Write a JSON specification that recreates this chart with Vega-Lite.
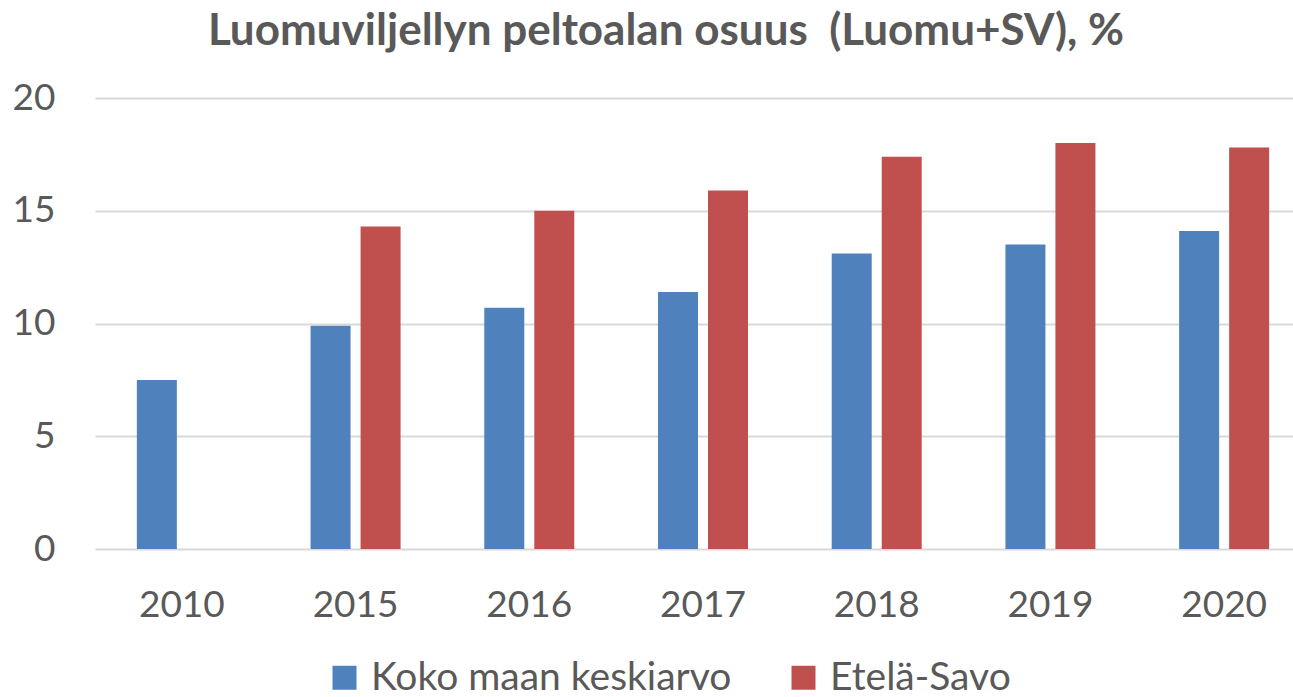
{
  "$schema": "https://vega.github.io/schema/vega-lite/v6.json",
  "width": 1198,
  "height": 451,
  "autosize": {"type": "none"},
  "padding": {"left": 95, "top": 98, "right": 0, "bottom": 148},
  "background": "white",
  "title": {
    "text": "Luomuviljellyn peltoalan osuus \u00a0(Luomu+SV), %",
    "font": "Lato",
    "fontSize": 44,
    "fontWeight": "bold",
    "color": "#595959",
    "anchor": "middle",
    "dx": -28,
    "offset": 25
  },
  "data": {
    "values": [
      {"vuosi": "2010", "sarja": "Koko maan keskiarvo", "osuus": 7.5},
      {"vuosi": "2015", "sarja": "Koko maan keskiarvo", "osuus": 9.9},
      {"vuosi": "2015", "sarja": "Etelä-Savo", "osuus": 14.3},
      {"vuosi": "2016", "sarja": "Koko maan keskiarvo", "osuus": 10.7},
      {"vuosi": "2016", "sarja": "Etelä-Savo", "osuus": 15.0},
      {"vuosi": "2017", "sarja": "Koko maan keskiarvo", "osuus": 11.4},
      {"vuosi": "2017", "sarja": "Etelä-Savo", "osuus": 15.9},
      {"vuosi": "2018", "sarja": "Koko maan keskiarvo", "osuus": 13.1},
      {"vuosi": "2018", "sarja": "Etelä-Savo", "osuus": 17.4},
      {"vuosi": "2019", "sarja": "Koko maan keskiarvo", "osuus": 13.5},
      {"vuosi": "2019", "sarja": "Etelä-Savo", "osuus": 18.0},
      {"vuosi": "2020", "sarja": "Koko maan keskiarvo", "osuus": 14.1},
      {"vuosi": "2020", "sarja": "Etelä-Savo", "osuus": 17.8}
    ]
  },
  "mark": {"type": "bar"},
  "encoding": {
    "x": {
      "field": "vuosi",
      "type": "nominal",
      "scale": {"range": [0, 1216], "paddingInner": 0, "paddingOuter": 0},
      "axis": {
        "title": null,
        "labelAngle": 0,
        "labelFont": "Lato",
        "labelFontSize": 37,
        "labelColor": "#595959",
        "labelPadding": 38,
        "ticks": false,
        "domain": false,
        "grid": false
      }
    },
    "xOffset": {
      "field": "sarja",
      "type": "nominal",
      "sort": ["Koko maan keskiarvo", "Etelä-Savo"],
      "scale": {"domain": ["Koko maan keskiarvo", "Etelä-Savo"], "paddingInner": 0.2, "paddingOuter": 0.837}
    },
    "y": {
      "field": "osuus",
      "type": "quantitative",
      "scale": {"domain": [0, 20], "nice": false},
      "axis": {
        "title": null,
        "values": [0, 5, 10, 15, 20],
        "labelFont": "Lato",
        "labelFontSize": 37,
        "labelColor": "#595959",
        "labelPadding": 40,
        "ticks": false,
        "domain": false,
        "grid": true,
        "gridColor": "#D9D9D9",
        "gridWidth": 2
      }
    },
    "color": {
      "field": "sarja",
      "type": "nominal",
      "scale": {"domain": ["Koko maan keskiarvo", "Etelä-Savo"], "range": ["#4F81BD", "#C0504D"]},
      "legend": {
        "title": null,
        "orient": "none",
        "direction": "horizontal",
        "legendX": 230,
        "legendY": 560,
        "symbolType": "square",
        "symbolSize": 576,
        "symbolStrokeWidth": 0,
        "symbolOpacity": 1,
        "labelFont": "Lato",
        "labelFontSize": 39,
        "labelColor": "#595959",
        "labelOffset": 7,
        "columnPadding": 52,
        "labelLimit": 600
      }
    }
  },
  "config": {
    "view": {"stroke": null}
  }
}
